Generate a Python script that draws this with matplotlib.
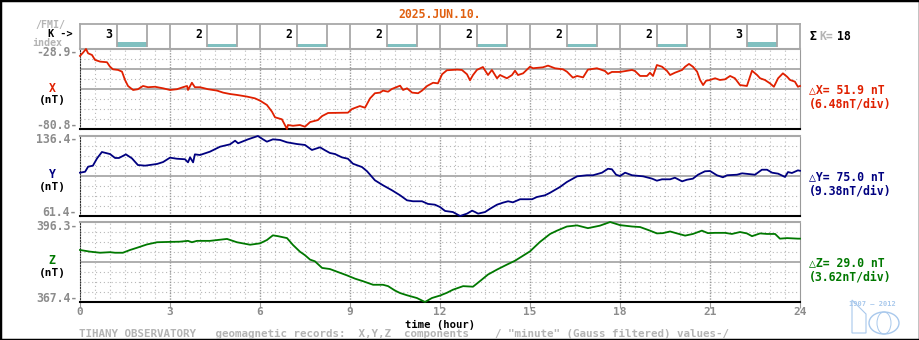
import matplotlib
matplotlib.use("Agg")
import matplotlib.pyplot as plt
from matplotlib.patches import Rectangle, Ellipse, Polygon

plt.rcParams['font.family'] = ['DejaVu Sans Mono', 'DejaVu Sans']
plt.rcParams['font.weight'] = 'bold'
plt.rcParams['font.size'] = 8.3

date_label = "2025.JUN.10."
k_index = [3, 2, 2, 2, 2, 2, 2, 3]
hour_ticks = [0, 3, 6, 9, 12, 15, 18, 21, 24]

# X component (nT)
x_hours = [0.0, 0.1, 0.2, 0.27, 0.4, 0.5, 0.67, 0.9, 1.0, 1.1, 1.27, 1.4, 1.5, 1.6, 1.77, 1.93,
           2.1, 2.27, 2.5, 2.77, 3.0, 3.23, 3.43, 3.57, 3.6, 3.73, 3.83, 4.0, 4.27, 4.57, 4.77,
           5.0, 5.23, 5.57, 5.83, 6.0, 6.23, 6.4, 6.5, 6.73, 6.9, 6.93, 7.1, 7.33, 7.5, 7.67,
           7.93, 8.07, 8.27, 8.93, 9.07, 9.33, 9.5, 9.67, 9.83, 10.0, 10.1, 10.27, 10.4, 10.67,
           10.77, 10.9, 11.07, 11.27, 11.4, 11.57, 11.77, 11.93, 12.07, 12.23, 12.57, 12.73,
           12.9, 13.0, 13.1, 13.23, 13.43, 13.6, 13.73, 13.9, 14.0, 14.23, 14.4, 14.5, 14.6,
           14.77, 15.0, 15.1, 15.43, 15.6, 15.83, 16.1, 16.23, 16.43, 16.57, 16.77, 16.93,
           17.23, 17.5, 17.6, 17.73, 18.0, 18.4, 18.5, 18.67, 18.9, 19.0, 19.1, 19.23, 19.4,
           19.57, 19.67, 19.83, 20.07, 20.17, 20.3, 20.43, 20.57, 20.67, 20.77, 20.87, 21.0,
           21.17, 21.33, 21.5, 21.67, 21.83, 22.0, 22.23, 22.4, 22.57, 22.67, 22.83, 23.0,
           23.13, 23.27, 23.43, 23.57, 23.67, 23.83, 23.93, 24.0]
x_values = [-33.4, -31.3, -28.92, -31.7, -32.8, -36.0, -37.1, -37.5, -40.4, -42.1, -42.5, -43.6,
            -49.0, -52.9, -55.5, -55.0, -52.9, -53.7, -53.4, -54.4, -55.5, -55.0, -53.7, -52.9,
            -55.5, -50.8, -53.7, -53.7, -55.0, -55.9, -57.2, -58.1, -58.7, -59.8, -60.9, -62.4,
            -65.2, -69.6, -73.2, -74.5, -80.79, -78.2, -78.7, -78.2, -79.3, -76.3, -75.0, -72.4,
            -70.4, -70.2, -67.8, -65.9, -67.0, -60.9, -57.6, -57.2, -55.9, -56.6, -54.8, -52.7,
            -55.5, -54.4, -57.2, -57.6, -55.9, -52.9, -50.8, -51.2, -45.3, -42.7, -42.3, -42.5,
            -45.3, -49.2, -45.8, -42.5, -40.6, -45.8, -42.5, -47.9, -45.8, -47.9, -45.8, -43.0,
            -45.8, -44.7, -40.4, -41.4, -40.8, -39.7, -41.4, -42.1, -43.6, -47.5, -46.4, -47.3,
            -42.3, -41.4, -43.2, -45.1, -43.8, -43.8, -42.5, -43.2, -46.4, -46.4, -44.3, -46.4,
            -39.3, -40.4, -43.2, -45.8, -44.3, -42.5, -40.4, -38.6, -40.4, -43.6, -49.0, -52.3,
            -49.5, -49.0, -47.9, -49.0, -48.6, -46.4, -47.9, -52.3, -52.9, -43.0, -45.8, -47.9,
            -49.0, -51.2, -53.4, -47.9, -44.7, -46.9, -49.0, -50.1, -53.4, -52.9]

# Y component (nT)
y_hours = [0.0, 0.17, 0.27, 0.43, 0.57, 0.73, 0.83, 1.0, 1.17, 1.3, 1.53, 1.73, 1.93, 2.17,
           2.57, 2.77, 3.0, 3.23, 3.5, 3.6, 3.67, 3.77, 3.83, 4.0, 4.33, 4.67, 5.0, 5.17, 5.27,
           5.6, 5.93, 6.1, 6.23, 6.43, 6.67, 6.9, 7.23, 7.5, 7.73, 8.0, 8.17, 8.33, 8.5, 8.73,
           8.93, 9.1, 9.4, 9.57, 9.83, 10.1, 10.4, 10.67, 10.9, 11.1, 11.4, 11.6, 11.83, 12.0,
           12.17, 12.43, 12.67, 12.9, 13.07, 13.17, 13.27, 13.5, 13.67, 13.9, 14.1, 14.27,
           14.43, 14.67, 15.07, 15.23, 15.5, 15.67, 16.0, 16.23, 16.57, 16.9, 17.1, 17.4, 17.6,
           17.73, 17.87, 18.0, 18.17, 18.4, 18.77, 19.07, 19.23, 19.4, 19.67, 19.83, 20.07,
           20.23, 20.43, 20.6, 20.83, 21.0, 21.23, 21.43, 21.57, 21.9, 22.07, 22.27, 22.5,
           22.73, 22.9, 23.07, 23.27, 23.5, 23.6, 23.73, 23.93, 24.0]
y_values = [102.0, 102.9, 107.6, 108.6, 115.5, 121.4, 120.7, 119.5, 115.8, 115.8, 119.2, 115.5,
            109.2, 108.6, 110.2, 112.0, 116.1, 115.1, 114.6, 111.7, 116.4, 111.7, 119.2, 118.6,
            121.7, 126.4, 128.6, 132.0, 129.6, 133.3, 136.42, 133.3, 131.1, 133.3, 132.7, 130.5,
            128.9, 128.0, 123.3, 125.8, 123.0, 120.5, 119.5, 116.4, 115.1, 110.4, 107.3, 103.3,
            94.9, 90.2, 85.5, 80.8, 76.1, 75.2, 75.2, 72.7, 72.0, 69.8, 66.1, 65.1, 61.38, 63.6,
            66.4, 65.1, 63.6, 65.1, 68.2, 72.0, 73.9, 75.2, 74.2, 77.1, 77.1, 79.2, 80.8, 83.2,
            88.6, 93.3, 98.6, 99.6, 99.6, 102.0, 105.7, 105.2, 100.1, 98.9, 102.0, 99.6, 98.6,
            96.4, 94.5, 95.8, 95.8, 97.3, 93.9, 95.4, 96.4, 100.1, 103.3, 103.6, 99.6, 97.7,
            99.6, 100.1, 101.4, 100.8, 100.1, 104.8, 104.8, 102.0, 101.1, 98.0, 102.6, 101.7,
            104.2, 103.8]

# Z component (nT)
z_hours = [0.0, 0.33, 0.67, 1.0, 1.17, 1.43, 1.67, 1.9, 2.23, 2.57, 2.9, 3.33, 3.6, 3.73, 3.9,
           4.33, 4.9, 5.23, 5.67, 6.0, 6.23, 6.43, 6.6, 6.9, 7.1, 7.33, 7.5, 7.67, 7.83, 8.07,
           8.33, 8.6, 8.9, 9.17, 9.43, 9.77, 10.1, 10.27, 10.5, 10.67, 10.9, 11.23, 11.5,
           11.73, 12.0, 12.23, 12.43, 12.77, 13.1, 13.33, 13.6, 13.9, 14.23, 14.5, 15.0, 15.33,
           15.67, 15.9, 16.23, 16.57, 16.93, 17.33, 17.67, 18.0, 18.4, 18.67, 19.0, 19.23,
           19.43, 19.67, 19.9, 20.17, 20.43, 20.73, 20.93, 21.17, 21.5, 21.73, 22.0, 22.23,
           22.4, 22.67, 22.9, 23.17, 23.33, 23.57, 23.93, 24.0]
z_values = [386.2, 385.6, 385.2, 385.4, 385.2, 385.2, 386.2, 387.0, 388.2, 389.0, 389.1, 389.2,
            389.5, 389.0, 389.5, 389.5, 390.2, 389.0, 388.1, 388.6, 389.8, 391.5, 391.2, 390.5,
            388.0, 385.6, 384.3, 382.7, 382.1, 379.7, 379.3, 378.2, 377.0, 375.8, 374.9, 373.6,
            373.6, 373.1, 371.5, 370.6, 369.8, 368.8, 367.36, 368.8, 369.7, 370.7, 371.8, 373.1,
            372.9, 374.9, 377.3, 379.1, 380.9, 382.3, 385.7, 389.1, 392.0, 393.2, 394.7, 395.1,
            394.1, 395.0, 396.33, 395.2, 394.7, 394.5, 393.2, 392.2, 392.3, 392.9, 392.2, 391.4,
            392.0, 393.2, 392.3, 392.4, 392.4, 392.0, 392.7, 392.2, 391.2, 392.2, 392.0, 392.0,
            390.3, 390.5, 390.3, 390.3]

components = ["X", "Y", "Z"]
comp_colors = ["#e02000", "#000080", "#007800"]

W, H = 920, 340
fig = plt.figure(figsize=(W / 100, H / 100), dpi=100)


def fx(px):
    return px / W


def fy(py):
    return 1 - py / H


GRID = "#b8b8b8"
MAJOR = "#9a9a9a"
SOLID = "#a8a8a8"
GREY_TXT = "#8c8c8c"
LIGHT_TXT = "#b4b4b4"

# K index row
axk = fig.add_axes([fx(80), fy(49), fx(720), 25 / H])
axk.set_xlim(0, 24)
axk.set_ylim(0, 25)
axk.set_xticks([])
axk.set_yticks([])
for s in axk.spines.values():
    s.set_color(SOLID)
    s.set_linewidth(1.3)
for i, k in enumerate(k_index):
    t0 = 3 * i
    if i > 0:
        axk.axvline(t0, color=SOLID, lw=1.3)
    axk.text(t0 + 0.97, 14, str(k), ha="center", va="center", color="black")
    axk.bar(t0 + 1.73, k * 1.55, width=1.0, bottom=2.3, color="#80c0c0")
    axk.vlines([t0 + 1.23, t0 + 2.23], 2.3, 25, color=SOLID, lw=1.3)

series = [(x_hours, x_values), (y_hours, y_values), (z_hours, z_values)]
panel_px = [(49, 129), (136, 216), (222, 302)]
solid_divs = [(4, 6), (4,), (4,)]

for n, ((hrs, vals), (ptop, pbot)) in enumerate(zip(series, panel_px)):
    ax = fig.add_axes([fx(80), fy(pbot), fx(720), (pbot - ptop) / H])
    top, bot = max(vals), min(vals)
    ax.set_xlim(0, 24)
    ax.set_ylim(bot, top)
    step = (top - bot) / 8
    for i in range(1, 8):
        yv = bot + i * step
        if i in solid_divs[n]:
            ax.axhline(yv, color=SOLID, lw=1.3, zorder=1)
        else:
            ax.axhline(yv, color=GRID, lw=0.8, ls=(0, (1, 2.5)), zorder=1)
    for h in range(1, 48):
        if h % 6 == 0:
            ax.axvline(h / 2, color=MAJOR, lw=1.0, ls=(0, (1, 1)), zorder=1)
        else:
            ax.axvline(h / 2, color=GRID, lw=0.8, ls=(0, (1, 2.5)), zorder=1)
    ax.plot(hrs, vals, color=comp_colors[n], lw=1.3, zorder=3, clip_on=False)

    ax.spines["top"].set_color(SOLID)
    ax.spines["top"].set_linewidth(1.5)
    ax.spines["bottom"].set_color("black")
    ax.spines["bottom"].set_linewidth(1.5)
    ax.spines["left"].set_color("#333333")
    ax.spines["left"].set_linestyle((0, (1, 1.5)))
    ax.spines["right"].set_color(MAJOR)
    ax.spines["right"].set_linestyle((0, (1, 1)))
    ax.set_yticks([])
    if n < 2:
        ax.set_xticks([])
    else:
        ax.set_xticks(hour_ticks)
        ax.set_xticklabels([str(t) for t in hour_ticks])
        ax.tick_params(axis="x", length=4, color=MAJOR, labelcolor=GREY_TXT, pad=-0.5,
                       labelsize=8)

    # scale labels on the left
    ax.text(-0.004, 0.95, f"{top:.1f}-", transform=ax.transAxes, ha="right", va="center",
            color=GREY_TXT)
    ax.text(-0.004, 0.04, f"{bot:.1f}-", transform=ax.transAxes, ha="right", va="center",
            color=GREY_TXT)
    mid = (ptop + pbot) / 2
    fig.text(fx(52), fy(mid - 1), components[n], ha="center", va="center",
             color=comp_colors[n])
    fig.text(fx(52), fy(mid + 11), "(nT)", ha="center", va="center", color="black",
             fontsize=8)

    # range annotations on the right
    delta = top - bot
    fig.text(fx(809), fy(mid + 1), f"\u25b3{components[n]}= {delta:.1f} nT", ha="left",
             va="center", color=comp_colors[n])
    fig.text(fx(809), fy(mid + 15), f"({delta / 8:.2f}nT/div)", ha="left", va="center",
             color=comp_colors[n])

# header texts
fig.text(fx(440), fy(15), date_label, ha="center", va="center", color="#e06010")
fig.text(fx(50), fy(25), "/FMI/", ha="center", va="center", color=LIGHT_TXT, fontsize=7.2)
fig.text(fx(60), fy(34), "K ->", ha="center", va="center", color="black", fontsize=7.4)
fig.text(fx(47), fy(42.5), "index", ha="center", va="center", color=LIGHT_TXT, fontsize=7.2)
fig.text(fx(810), fy(37), "\u03a3", ha="left", va="center", color="black")
fig.text(fx(819), fy(37), "K=", ha="left", va="center", color=LIGHT_TXT)
fig.text(fx(837), fy(37), str(sum(k_index)), ha="left", va="center", color="black")

# bottom texts
fig.text(fx(440), fy(324.5), "time (hour)", ha="center", va="center", color="black",
         fontsize=7.6)
fig.text(fx(79), fy(333.5),
         'TIHANY OBSERVATORY   geomagnetic records:  X,Y,Z  components    '
         '/ "minute" (Gauss filtered) values-/',
         ha="left", va="center", color=LIGHT_TXT, fontsize=7.8)

# small logo
logo = "#a8c8ec"
fig.text(fx(872), fy(304), "1907 \u2014 2012", ha="center", va="center", color=logo,
         fontsize=5)
fig.patches.append(Polygon([(fx(852), fy(333)), (fx(852), fy(300)), (fx(866), fy(314)),
                            (fx(866), fy(333))], closed=True, transform=fig.transFigure,
                           fill=False, ec=logo, lw=0.8))
fig.patches.append(Ellipse((fx(884), fy(323)), fx(30), 22 / H, transform=fig.transFigure,
                           fill=False, ec=logo, lw=1.0))
fig.patches.append(Ellipse((fx(884), fy(323)), fx(14), 22 / H, transform=fig.transFigure,
                           fill=False, ec=logo, lw=0.7))

# outer frame
fig.patches.append(Rectangle((0, 0), 1, 1, transform=fig.transFigure, fill=False,
                             ec="black", lw=2.5))

fig.savefig("out.png", dpi=100)
